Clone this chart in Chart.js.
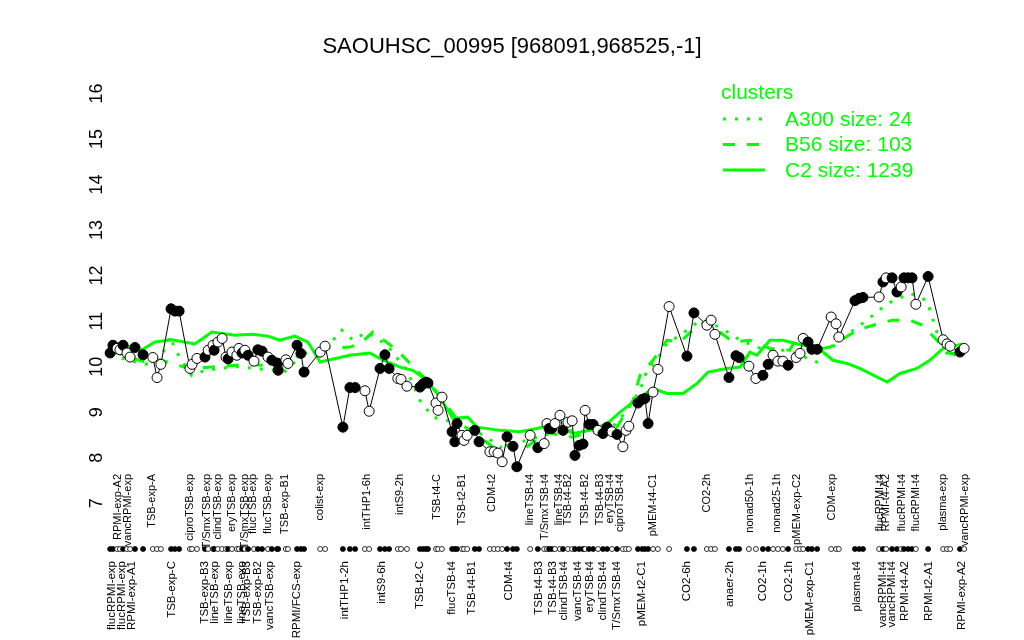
<!DOCTYPE html>
<html>
<head>
<meta charset="utf-8">
<script src="https://cdn.jsdelivr.net/npm/chart.js@4.4.1/dist/chart.umd.min.js"></script>
<style>
  html, body { margin: 0; padding: 0; background: #fff; }
</style>
</head>
<body>
<canvas id="chart" width="1024" height="640"></canvas>
<script>
// sample positions along the x axis, expression level, and whether the dot is filled
const samplePos = [2.9,3.7,4.9,5.7,6.6,7.7,8.6,10.0,12.3,15.1,16.3,17.4,20.3,21.4,22.6,25.7,26.3,27.7,30.0,30.9,
  32.3,32.6,33.7,34.9,36.0,36.6,37.7,39.1,39.7,40.6,41.4,42.3,44.0,45.1,46.3,48.0,49.1,50.6,50.9,53.1,
  53.7,56.3,57.4,58.3,62.9,64.3,69.4,71.4,72.9,75.7,76.9,80.0,81.4,82.6,85.1,86.0,87.7,91.4,92.3,93.1,
  93.7,96.0,96.6,97.7,100.6,101.4,102.0,103.4,104.0,104.9,107.1,108.3,111.4,112.6,113.7,114.9,116.3,118.0,119.1,122.9,
  125.1,126.9,127.7,128.3,129.1,130.0,131.4,132.3,133.7,134.9,135.7,136.9,138.0,138.6,139.7,140.9,142.3,143.7,144.9,146.3,
  147.7,149.4,150.3,151.1,153.7,154.9,155.7,156.6,158.0,159.4,162.6,167.7,169.7,173.4,174.6,175.7,179.7,181.7,182.6,185.4,
  187.4,189.4,190.9,192.3,193.7,195.1,196.6,198.9,200.0,200.9,202.3,203.4,204.9,208.9,210.3,211.1,215.7,216.9,218.0,222.6,
  223.7,224.6,226.3,227.7,228.9,229.7,230.9,232.0,233.1,236.6,240.9,242.0,242.9,245.7,246.9];
const expression = [10.30,10.47,10.40,10.37,10.47,10.30,10.21,10.42,10.26,10.20,9.76,10.05,11.27,11.22,11.22,9.96,10.05,10.18,10.21,10.36,
  10.47,10.36,10.54,10.62,10.21,10.17,10.32,10.25,10.40,10.30,10.36,10.25,10.12,10.37,10.34,10.21,10.14,10.08,9.92,10.15,
  10.07,10.47,10.29,9.88,10.32,10.45,8.67,9.54,9.54,9.47,9.02,9.96,10.26,9.96,9.74,9.72,9.57,9.55,9.62,9.66,
  9.64,9.20,9.04,9.33,8.57,8.35,8.75,8.49,8.38,8.49,8.60,8.35,8.13,8.13,8.10,7.91,8.46,8.25,7.80,8.49,
  8.22,8.31,8.75,8.64,8.64,8.75,8.93,8.60,8.78,8.81,8.05,8.27,8.30,9.04,8.73,8.73,8.60,8.53,8.67,8.57,
  8.51,8.24,8.60,8.69,9.20,9.28,9.30,8.75,9.44,9.94,11.32,10.23,11.18,10.91,11.02,10.71,9.76,10.24,10.20,10.01,
  9.74,9.81,10.05,10.25,10.12,10.12,10.03,10.20,10.29,10.62,10.54,10.38,10.38,11.09,10.94,10.65,11.45,11.50,11.52,11.53,
  11.86,11.95,11.95,11.64,11.75,11.95,11.95,11.95,11.37,11.98,10.59,10.50,10.45,10.32,10.40];
const filled = [1,1,0,0,1,0,0,1,1,0, 0,0,1,1,1,0,0,0,1,0, 0,1,0,0,0,1,0,0,0,1, 0,1,0,1,1,0,1,1,1,0,
  0,1,1,1,0,0,1,1,1,0, 0,1,1,1,0,0,0,1,1,1, 1,0,0,0,1,1,1,0,0,0, 1,1,0,0,0,0,1,1,1,0,
  1,0,0,1,1,0,0,1,0,0, 1,1,1,0,1,1,0,1,1,0, 1,0,0,0,1,1,1,1,0,0, 0,1,1,0,0,0,1,1,1,0,
  0,1,1,0,0,0,1,0,0,0, 1,1,1,0,0,0,1,1,1,0, 1,0,1,1,0,1,1,1,0,1, 0,0,0,1,0];

// condition names, upper and lower row
const topLabelPos = [5.2,8.1,14.8,25.7,30.5,33.8,37.6,41.4,43.8,48.1,52.9,62.9,76.2,85.7,96.2,103.3,111.9,122.9,127.1,131.0,
  133.8,138.6,142.9,145.7,148.6,158.1,173.3,185.7,193.3,199.1,209.1,222.9,224.6,229.1,233.1,240.9,247.1];
const topLabels = ["RPMI-exp-A2","vancRPMI-exp","TSB-exp-A","ciproTSB-exp","T/SmxTSB-exp","clindTSB-exp","eryTSB-exp",
  "T/SmxTSB-exp","flucTSB-exp","flucTSB-exp","TSB-exp-B1","colist-exp","intTHP1-6h","intS9-2h","TSB-t4-C","TSB-t2-B1",
  "CDM-t2","lineTSB-t4","T/SmxTSB-t4","lineTSB-t4","TSB-t4-B2","TSB-t4-B2","TSB-t4-B3","eryTSB-t4","ciproTSB-t4",
  "pMEM-t4-C1","CO2-2h","nonad50-1h","nonad25-1h","pMEM-exp-C2","CDM-exp","flucRPMI-t4","RPMI-t4-A2","flucRPMI-t4",
  "flucRPMI-t4","plasma-exp","vancRPMI-exp"];
const bottomLabelPos = [3.3,6.2,9.1,20.5,30.0,32.9,36.7,40.5,41.9,45.2,48.6,56.2,70.0,80.5,91.4,100.5,106.2,116.7,125.4,129.5,
  132.6,136.4,140.0,143.8,147.6,154.8,167.6,180.0,189.5,196.7,202.9,216.2,223.8,226.2,230.0,236.7,246.2];
const bottomLabels = ["flucRPMI-exp","flucRPMI-exp","RPMI-exp-A1","TSB-exp-C","TSB-exp-B3","lineTSB-exp","lineTSB-exp",
  "lineTSB-exp","TSB-exp-B3","TSB-exp-B2","vancTSB-exp","RPMI/FCS-exp","intTHP1-2h","intS9-6h","TSB-t2-C","flucTSB-t4",
  "TSB-t4-B1","CDM-t4","TSB-t4-B3","TSB-t4-B3","clindTSB-t4","vancTSB-t4","eryTSB-t4","clindTSB-t4","T/SmxTSB-t4",
  "pMEM-t2-C1","CO2-6h","anaer-2h","CO2-1h","CO2-1h","pMEM-exp-C1","plasma-t4","vancRPMI-t4","vancRPMI-t4","RPMI-t4-A2",
  "RPMI-t2-A1","RPMI-exp-A2"];

// cluster mean profiles
const a300Pos = [2.9,12.9,17.1,20.0,21.4,22.9,26.3,30.0,34.3,39.4,45.7,52.9,57.1,64.9,69.1,72.3,76.3,82.0,87.7,91.4,
  95.1,99.1,104.9,110.6,114.3,120.0,124.9,128.6,135.1,144.9,150.6,154.3,156.3,159.1,162.0,166.6,171.4,177.1,182.9,187.7,
  190.6,196.3,204.9,211.4,219.1,224.9,231.4,236.3,240.0,242.9,246.6];
const a300Values = [10.25,10.05,10.15,10.67,10.40,10.18,9.80,9.92,9.96,10.00,9.95,9.90,10.20,10.43,10.80,10.58,10.76,10.47,9.92,9.26,
  8.89,8.82,8.67,8.45,8.23,8.34,8.45,8.53,8.60,8.53,9.04,9.48,9.92,10.14,10.51,10.73,11.02,10.87,10.58,10.43,
  10.36,10.36,10.10,10.58,11.02,11.38,11.61,11.45,10.54,10.18,10.43];
const b56Pos = [2.9,12.9,17.1,25.7,32.9,42.9,51.4,57.1,62.9,71.4,74.3,78.0,84.9,87.7,91.4,94.3,98.0,102.9,108.6,112.3,
  116.3,120.0,123.7,127.7,135.1,140.9,147.7,152.3,154.3,158.0,162.0,165.7,169.4,173.4,177.1,180.9,185.7,191.4,197.1,199.1,
  203.7,208.6,216.3,220.9,226.3,231.4,235.1,239.1,242.9,246.6];
const b56Values = [10.35,10.10,10.15,9.95,10.00,10.05,10.00,10.25,10.40,10.43,10.50,10.76,10.36,10.14,9.85,9.63,9.26,8.75,8.45,8.23,
  8.27,8.12,8.34,8.55,8.45,8.60,8.67,9.26,9.81,10.14,10.58,10.54,10.80,11.02,10.76,10.54,10.58,10.40,10.36,10.65,
  10.36,10.43,10.80,10.91,11.02,11.02,10.91,10.58,10.29,10.29];
const c2Pos = [2.9,12.0,15.7,20.6,27.1,32.0,38.6,43.4,48.0,51.4,55.7,59.4,62.9,71.4,77.1,80.9,85.7,89.4,93.4,96.3,
  100.9,105.1,107.7,114.3,120.0,124.9,128.6,131.4,135.1,140.0,144.9,148.6,152.3,158.0,162.0,166.6,170.6,173.7,179.1,182.9,
  185.7,187.7,191.4,195.1,200.9,204.9,209.4,213.4,217.1,224.9,228.6,233.4,237.1,240.9,246.6];
const c2Values = [10.54,10.37,10.54,10.59,10.50,10.76,10.69,10.71,10.67,10.58,10.67,10.54,10.10,10.25,10.30,10.14,9.99,9.92,9.70,9.41,
  8.86,8.89,8.67,8.60,8.57,8.64,8.72,8.67,8.53,8.60,8.75,9.00,9.22,9.52,9.41,9.41,9.63,9.88,9.96,9.99,
  10.32,10.25,10.58,10.58,10.47,10.43,10.14,10.07,9.96,9.66,9.85,9.96,10.14,10.40,10.50];

const clusterNames = ["A300 size: 24", "B56 size: 103", "C2 size: 1239"];
const yTicks = [7, 8, 9, 10, 11, 12, 13, 14, 15, 16];

const FONT = '"Liberation Sans", Arial, Helvetica, sans-serif';
const GREEN = "#00ff00";

function pts(xs, ys) {
  return xs.map((x, i) => ({ x: x, y: ys[i] }));
}

// rotated y labels, sample rug, upper label row and the cluster legend
const decor = {
  id: "decor",
  afterDraw(chart) {
    const ctx = chart.ctx;
    const xs = chart.scales.x;
    const ys = chart.scales.y;
    const area = chart.chartArea;
    ctx.save();

    ctx.fillStyle = "#000";
    ctx.font = "18px " + FONT;
    ctx.textAlign = "center";
    ctx.textBaseline = "middle";
    yTicks.forEach(v => {
      ctx.save();
      ctx.translate(area.left - 3, ys.getPixelForValue(v));
      ctx.rotate(-Math.PI / 2);
      ctx.fillText(String(v), 0, 0);
      ctx.restore();
    });

    ctx.lineWidth = 0.8;
    ctx.strokeStyle = "#000";
    samplePos.forEach((p, i) => {
      ctx.beginPath();
      ctx.arc(xs.getPixelForValue(p), area.bottom - 7, 2.5, 0, Math.PI * 2);
      ctx.fillStyle = filled[i] ? "#000" : "#fff";
      ctx.fill();
      ctx.stroke();
    });

    ctx.fillStyle = "#000";
    ctx.font = "11px " + FONT;
    ctx.textAlign = "right";
    topLabels.forEach((t, i) => {
      ctx.save();
      ctx.translate(xs.getPixelForValue(topLabelPos[i]), area.bottom - 82);
      ctx.rotate(-Math.PI / 2);
      ctx.fillText(t, 0, 0);
      ctx.restore();
    });

    // legend
    ctx.fillStyle = GREEN;
    ctx.strokeStyle = GREEN;
    ctx.font = "21px " + FONT;
    ctx.textAlign = "left";
    ctx.fillText("clusters", 721, 93);
    chart.data.datasets.slice(1).forEach((ds, i) => {
      const y = 119 + i * 25.5;
      ctx.beginPath();
      ctx.setLineDash(ds.borderDash || []);
      ctx.lineWidth = 3;
      ctx.moveTo(723, y);
      ctx.lineTo(765, y);
      ctx.stroke();
      ctx.setLineDash([]);
      ctx.fillText(ds.label, 785, y + 1);
    });
    ctx.restore();
  }
};

new Chart(document.getElementById("chart"), {
  type: "line",
  data: {
    datasets: [
      {
        label: "expression",
        data: pts(samplePos, expression),
        borderColor: "#000",
        borderWidth: 1,
        pointRadius: 5,
        pointBorderWidth: 1,
        pointBorderColor: "#000",
        pointBackgroundColor: filled.map(f => (f ? "#000" : "#fff")),
        order: 0
      },
      {
        label: clusterNames[0],
        data: pts(a300Pos, a300Values),
        borderColor: GREEN,
        borderWidth: 3,
        borderDash: [3, 9],
        pointRadius: 0,
        order: 1
      },
      {
        label: clusterNames[1],
        data: pts(b56Pos, b56Values),
        borderColor: GREEN,
        borderWidth: 3,
        borderDash: [12, 12],
        pointRadius: 0,
        order: 2
      },
      {
        label: clusterNames[2],
        data: pts(c2Pos, c2Values),
        borderColor: GREEN,
        borderWidth: 3,
        pointRadius: 0,
        order: 3
      }
    ]
  },
  options: {
    responsive: false,
    animation: false,
    layout: { padding: 0 },
    plugins: {
      legend: { display: false },
      tooltip: { enabled: false },
      title: {
        display: true,
        text: "SAOUHSC_00995 [968091,968525,-1]",
        color: "#000",
        font: { family: FONT, size: 22, weight: "normal" },
        padding: { top: 34, bottom: 24 }
      }
    },
    scales: {
      x: {
        type: "linear",
        min: 0,
        max: 250,
        bounds: "data",
        grid: { display: false },
        border: { display: false },
        ticks: {
          autoSkip: false,
          minRotation: 90,
          maxRotation: 90,
          padding: -3,
          color: "#000",
          font: { family: FONT, size: 11.5 },
          callback: (v, i) => bottomLabels[i]
        },
        afterBuildTicks: s => {
          s.ticks = bottomLabelPos.map(v => ({ value: v }));
        },
        afterFit: s => {
          s.height = 84;
        }
      },
      y: {
        type: "linear",
        min: 5.84,
        max: 16.2,
        grid: { display: false },
        border: { display: false },
        ticks: { display: false },
        afterFit: s => {
          s.width = 100;
        }
      },
      // empty right margin so the title stays centred on the page
      yRight: {
        type: "linear",
        position: "right",
        grid: { display: false },
        border: { display: false },
        ticks: { display: false },
        afterFit: s => {
          s.width = 49;
        }
      }
    }
  },
  plugins: [decor]
});
</script>
</body>
</html>
